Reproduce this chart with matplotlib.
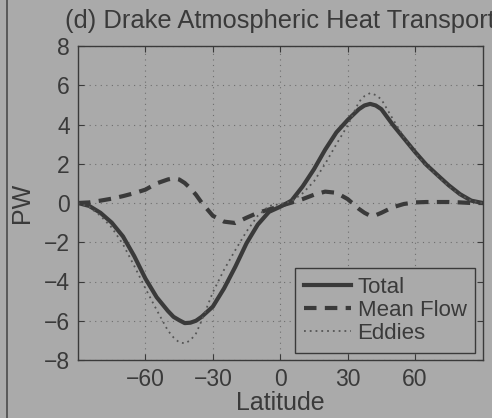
import numpy as np
import matplotlib
matplotlib.use("Agg")
import matplotlib.pyplot as plt
from matplotlib.lines import Line2D

plt.rcParams['font.family'] = ['Liberation Sans', 'DejaVu Sans']

# latitude (deg) and transports (PW)
lat = [-90, -85, -80, -75, -70, -65, -60, -55, -50, -47.5, -45, -42.5, -40,
       -37.5, -35, -30, -25, -20, -15, -10, -5, 0, 5, 10, 15, 20, 25, 30,
       35, 37.5, 40, 42.5, 45, 50, 55, 60, 65, 70, 75, 80, 85, 90]
total = [0.0, -0.15, -0.5, -1.0, -1.7, -2.7, -3.85, -4.8, -5.5, -5.8, -5.97,
         -6.12, -6.1, -6.0, -5.8, -5.28, -4.35, -3.25, -2.05, -1.1, -0.45,
         -0.19, 0.12, 0.85, 1.72, 2.72, 3.6, 4.23, 4.78, 4.97, 5.05, 4.97,
         4.78, 4.0, 3.3, 2.6, 1.95, 1.42, 0.9, 0.45, 0.12, 0.0]
mean_flow = [0.0, 0.03, 0.12, 0.22, 0.35, 0.5, 0.68, 1.0, 1.2, 1.26, 1.2,
             1.02, 0.75, 0.42, 0.02, -0.65, -0.95, -1.02, -0.75, -0.5,
             -0.33, -0.15, 0.02, 0.2, 0.42, 0.58, 0.52, 0.2, -0.3, -0.5,
             -0.65, -0.62, -0.5, -0.22, -0.05, 0.03, 0.05, 0.05, 0.05, 0.03,
             0.0, 0.0]
eddies = [0.0, -0.2, -0.65, -1.25, -2.1, -3.2, -4.35, -5.45, -6.5, -6.85,
          -7.1, -7.15, -7.0, -6.65, -6.0, -4.55, -3.4, -2.4, -1.45, -0.65,
          -0.15, -0.05, 0.08, 0.5, 1.1, 2.0, 3.0, 3.95, 5.15, 5.45, 5.6,
          5.5, 5.28, 4.3, 3.35, 2.55, 1.9, 1.37, 0.85, 0.42, 0.12, 0.0]

xticks = [-60, -30, 0, 30, 60]
yticks = [-8, -6, -4, -2, 0, 2, 4, 6, 8]

bg = '#aaaaaa'
ink = '#3a3a3a'

fig = plt.figure(figsize=(4.92, 4.18), dpi=100, facecolor=bg)
ax = fig.add_axes([78 / 492, 1 - 360 / 418, 404.5 / 492, 314 / 418])
ax.set_facecolor(bg)

ax.plot(lat, total, '-', color=ink, lw=3.0, solid_joinstyle='round', label='Total')
ax.plot(lat, mean_flow, '--', color=ink, lw=3.0, dashes=(3, 2), label='Mean Flow')
ax.plot(lat, eddies, ':', color='#555555', lw=1.3, dashes=(1, 2.2), label='Eddies')

ax.set_xlim(-90, 90)
ax.set_ylim(-8, 8)
ax.set_xticks(xticks)
ax.set_yticks(yticks)
ax.grid(True, linestyle=(0, (1, 4)), color='#6e6e6e', lw=0.8)
ax.tick_params(direction='in', top=True, right=True, length=4, width=0.8,
               colors=ink, labelsize=16.5, pad=6)
for s in ax.spines.values():
    s.set_color(ink)
    s.set_linewidth(1.0)

ax.set_xlabel('Latitude', fontsize=18, color=ink, labelpad=0)
ax.set_ylabel('PW', fontsize=18, color=ink, labelpad=7)
ax.set_title('(d) Drake Atmospheric Heat Transport', fontsize=18.4, color=ink, pad=13)

leg = ax.legend(loc='lower right', fontsize=16, frameon=True, fancybox=False,
                framealpha=1, facecolor=bg, edgecolor=ink, handlelength=2.1,
                handletextpad=0.3, borderpad=0.4, labelspacing=0.1,
                borderaxespad=0.32)
leg.get_frame().set_linewidth(1.0)
for t in leg.get_texts():
    t.set_color(ink)

# dark border line at the left edge of the scanned panel
fig.add_artist(Line2D([7 / 492, 7 / 492], [0, 1], color='#4a4a4a', lw=1.2))

fig.savefig('out.png', dpi=100, facecolor=bg)
